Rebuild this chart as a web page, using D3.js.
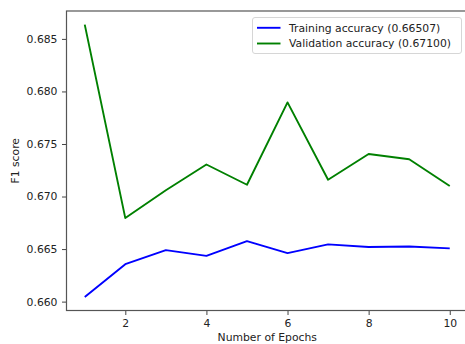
<!DOCTYPE html>
<html>
<head>
<meta charset="utf-8">
<script src="https://cdn.jsdelivr.net/npm/d3@7"></script>
<style>
  html, body { margin: 0; padding: 0; background: #fff; overflow: hidden; }
  svg { display: block; }
  text { font-family: "DejaVu Sans", sans-serif; fill: #222; }
</style>
</head>
<body>
<svg id="chart" width="465" height="344"></svg>
<script>
// Per-epoch F1 scores
const epochs = [1, 2, 3, 4, 5, 6, 7, 8, 9, 10];
const trainingF1 = [0.66045, 0.66356, 0.66490, 0.66435, 0.66575, 0.66461, 0.66545, 0.66520, 0.66525, 0.66507];
const validationF1 = [0.68636, 0.66795, 0.67060, 0.67305, 0.67112, 0.67896, 0.67160, 0.67405, 0.67355, 0.67100];
const yTicks = [0.660, 0.665, 0.670, 0.675, 0.680, 0.685];
const xTicks = [2, 4, 6, 8, 10];
const seriesNames = ["Training accuracy (0.66507)", "Validation accuracy (0.67100)"];
const seriesColors = ["#0000ff", "#008000"];

const svg = d3.select("#chart");
const plot = { left: 66.5, right: 468, top: 11, bottom: 310.5 };
const fontSize = 10.8;

// 5% padding around the data extent on both axes
function padded(ext) {
  const d = (ext[1] - ext[0]) * 0.05;
  return [ext[0] - d, ext[1] + d];
}
const x = d3.scaleLinear()
  .domain(padded(d3.extent(epochs)))
  .range([plot.left, plot.right]);
const y = d3.scaleLinear()
  .domain(padded(d3.extent(trainingF1.concat(validationF1))))
  .range([plot.bottom, plot.top]);

// Axes
const xAxis = d3.axisBottom(x).tickValues(xTicks).tickFormat(d3.format("d"))
  .tickSize(4.5).tickPadding(4);
const yAxis = d3.axisLeft(y).tickValues(yTicks).tickFormat(d3.format(".3f"))
  .tickSize(4.5).tickPadding(4.5);

const gx = svg.append("g").attr("transform", `translate(0,${plot.bottom})`).call(xAxis);
const gy = svg.append("g").attr("transform", `translate(${plot.left},0)`).call(yAxis);
[gx, gy].forEach(g => {
  g.select(".domain").remove();
  g.selectAll(".tick line").attr("stroke", "#444").attr("stroke-width", 1);
  g.selectAll(".tick text").attr("font-size", fontSize)
    .attr("font-family", "DejaVu Sans, sans-serif").attr("fill", "#222");
});

// Frame around the plotting area
svg.append("rect")
  .attr("x", plot.left).attr("y", plot.top)
  .attr("width", plot.right - plot.left).attr("height", plot.bottom - plot.top)
  .attr("fill", "none").attr("stroke", "#555").attr("stroke-width", 1.2);

// Series lines
const line = d3.line().x((d, i) => x(epochs[i])).y(d => y(d));
[trainingF1, validationF1].forEach((vals, k) => {
  svg.append("path")
    .datum(vals)
    .attr("d", line)
    .attr("fill", "none")
    .attr("stroke", seriesColors[k])
    .attr("stroke-width", 1.9)
    .attr("stroke-linejoin", "round");
});

// Axis titles
svg.append("text")
  .attr("x", (plot.left + plot.right) / 2).attr("y", 341)
  .attr("text-anchor", "middle").attr("font-size", fontSize)
  .text("Number of Epochs");
svg.append("text")
  .attr("transform", `translate(19,${(plot.top + plot.bottom) / 2}) rotate(-90)`)
  .attr("text-anchor", "middle").attr("font-size", fontSize)
  .text("F1 score");

// Legend
const legend = svg.append("g").attr("transform", "translate(252.5,17.5)");
legend.append("rect")
  .attr("width", 209).attr("height", 36).attr("rx", 2.5)
  .attr("fill", "#fff").attr("fill-opacity", 0.8)
  .attr("stroke", "#d6d6d6").attr("stroke-width", 1);
seriesNames.forEach((name, k) => {
  const cy = 10.3 + k * 15.7;
  legend.append("line")
    .attr("x1", 4.5).attr("x2", 28).attr("y1", cy).attr("y2", cy)
    .attr("stroke", seriesColors[k]).attr("stroke-width", 1.9);
  legend.append("text")
    .attr("x", 36.5).attr("y", cy).attr("dy", "0.36em")
    .attr("font-size", fontSize)
    .text(name);
});
</script>
</body>
</html>
